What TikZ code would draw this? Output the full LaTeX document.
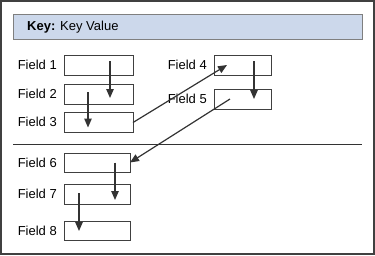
\documentclass[tikz,border=0pt]{standalone}
\usepackage{fontspec}
\setmainfont{Liberation Sans}
\usetikzlibrary{arrows.meta,positioning}
\definecolor{FrameGray}{HTML}{404040}
\definecolor{LineGray}{HTML}{333333}
\definecolor{KeyBlue}{HTML}{CCD8EB}
\definecolor{KeyEdge}{HTML}{7F7F7F}
\begin{document}
\begin{tikzpicture}[x=1pt,y=-1pt,
    field/.style={draw=FrameGray,line width=1pt,minimum width=69pt,minimum height=20pt,
                  inner sep=0pt,outer sep=0pt},
    flabel/.style={font=\fontsize{13}{15}\selectfont,text=black,inner sep=0pt},
    arr/.style={-{Triangle[length=9pt,width=7.5pt]},line width=1.2pt,LineGray}]
    \useasboundingbox (0,0) rectangle (375,255);
    \draw[FrameGray,line width=2pt] (1,1) rectangle (374,254);
    % key bar
    \node[draw=KeyEdge,fill=KeyBlue,line width=1pt,minimum width=349pt,minimum height=25pt,
          inner sep=0pt,anchor=north west] (key) at (13,14) {};
    \node[flabel,anchor=west] (keytxt) at ([xshift=14pt]key.west) {\textbf{Key:} Key Value};
    % upper fields
    \node[field] (f1) at (98.5,65) {};
    \node[field,below=9pt of f1] (f2) {};
    \node[field,below=8pt of f2] (f3) {};
    \node[field,minimum width=57pt] (f4) at (242.5,65) {};
    \node[field,minimum width=57pt,below=14pt of f4] (f5) {};
    \draw[LineGray,line width=1pt] (13,144) -- (362,144);
    % lower fields
    \node[field,minimum width=66pt,minimum height=19pt,anchor=north west] (f6) at (64,153) {};
    \node[field,minimum width=66pt,below=12pt of f6] (f7) {};
    \node[field,minimum width=66pt,minimum height=19pt,below=17pt of f7] (f8) {};
    \foreach \f/\t in {f1/1,f2/2,f3/3,f4/4,f5/5,f6/6,f7/7,f8/8}
      \node[flabel,left=7pt of \f] (l\t) {Field \t};
    % arrows
    \draw[arr] ([xshift=11.5pt,yshift=4pt]f1.center) -- ([xshift=11.5pt,yshift=-4pt]f2.center);
    \draw[arr] ([xshift=-10.5pt,yshift=2pt]f2.center) -- ([xshift=-10.5pt,yshift=-5.5pt]f3.center);
    \draw[arr] ([yshift=-0.5pt]f3.east) -- ([xshift=-15.5pt]f4.center);
    \draw[arr] ([xshift=11.5pt,yshift=4pt]f4.center) -- ([xshift=11.5pt]f5.center);
    \draw[arr] ([xshift=-12.5pt]f5.center) -- (f6.east);
    \draw[arr] ([xshift=18pt]f6.center) -- ([xshift=18pt,yshift=-6pt]f7.center);
    \draw[arr] ([xshift=-18pt,yshift=1pt]f7.center) -- ([xshift=-18pt,yshift=-0.5pt]f8.center);
\end{tikzpicture}
\end{document}
